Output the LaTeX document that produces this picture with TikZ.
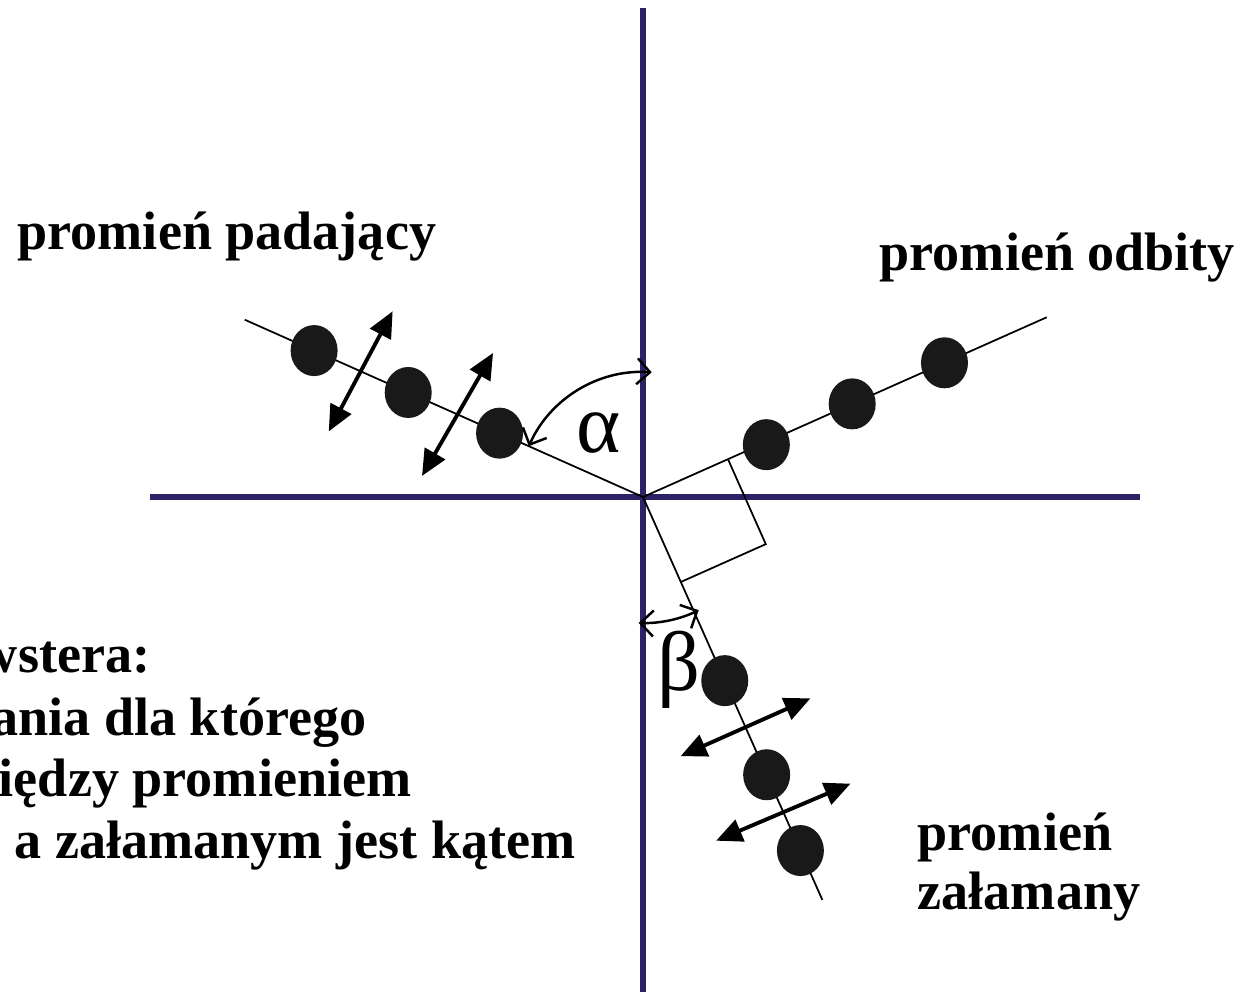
\documentclass[tikz,border=0pt]{standalone}
\usepackage{fontspec}
\setmainfont{Liberation Serif}
\usepackage{xcolor}
\usepackage{tikz}
\usetikzlibrary{shapes.geometric,arrows.meta,calc}
\definecolor{axisnavy}{RGB}{43,35,102}

\begin{document}
\begin{tikzpicture}[font=\bfseries\fontsize{15.4}{17.6}\selectfont, axis/.style={draw=axisnavy, line width=1.6pt}, ray/.style={draw, line width=0.5pt}, dot/.style={ellipse, fill=black!90, inner sep=0pt, minimum width=0.47cm, minimum height=0.51cm}, pol/.style={{Triangle[length=2.6mm,width=2.3mm]}-{Triangle[length=2.6mm,width=2.3mm]}, line width=1.1pt}, ang/.style={{Straight Barb[length=1.3mm,width=2.6mm]}-{Straight Barb[length=1.3mm,width=2.6mm]}, line width=0.7pt}, greek/.style={font=\fontsize{24}{27}\selectfont}, lbl/.style={inner sep=0pt, align=left}]
\useasboundingbox (-6.43,-4.95) rectangle (6.05,4.97);
\clip (-6.43,-4.95) rectangle (6.05,4.97);
% axes
\coordinate (O) at (0,0);
\coordinate (top) at (0,4.89);
\coordinate (bot) at (0,-4.95);
\coordinate (left) at (-4.93,0);
\coordinate (right) at (4.97,0);
\draw[axis] (top) -- (bot);
\draw[axis] (left) -- (right);
% rays
\coordinate (inc) at (156:4.36);
\coordinate (refl) at (24:4.42);
\coordinate (refr) at (-66:4.41);
\draw[ray] (inc) -- (O) -- (refl);
\draw[ray] (O) -- (refr);
% right angle
\coordinate (sq1) at (24:0.93);
\coordinate (sq2) at (-66:0.93);
\draw[ray] (sq1) -- ($(sq1)+(sq2)$) -- (sq2);
% dots
\node[dot] (inc1) at (156:3.60) {};
\node[dot] (inc2) at (156:2.57) {};
\node[dot] (inc3) at (156:1.57) {};
\node[dot] (refl1) at (23:1.34) {};
\node[dot] (refl2) at (24:2.29) {};
\node[dot] (refl3) at (24:3.30) {};
\node[dot] (refr1) at (-66:2.01) {};
\node[dot] (refr2) at (-66:3.04) {};
\node[dot] (refr3) at (-66:3.87) {};
% polarization
\coordinate (pa) at (156:3.09);
\coordinate (pb) at (156:2.03);
\coordinate (pc) at (-66:2.52);
\coordinate (pd) at (-66:3.45);
\draw[pol] ($(pa)+(242:0.68)$) -- ($(pa)+(62:0.68)$);
\draw[pol] ($(pb)+(240:0.71)$) -- ($(pb)+(60:0.71)$);
\draw[pol] ($(pc)+(204:0.71)$) -- ($(pc)+(24:0.71)$);
\draw[pol] ($(pd)+(203:0.73)$) -- ($(pd)+(23:0.73)$);
% angles
\draw[ang] (156:1.25) arc[start angle=156, end angle=86, radius=1.25];
\draw[ang] (-92:1.26) arc[start angle=-92, end angle=-64, radius=1.27];
\node[greek] (alpha) at (-0.44,0.64) {α};
\node[greek] (beta) at (0.36,-1.73) {β};
% labels
\node[lbl, anchor=base west] (tinc) at (-6.26,2.48) {promień padający};
\node[lbl, anchor=base west] (trefl) at (2.36,2.27) {promień odbity};
\node[lbl, anchor=base west] (trefr1) at (2.74,-3.53) {promień};
\node[lbl, anchor=base west] (trefr2) at (2.74,-4.12) {załamany};
\node[lbl, anchor=base east] (tb1) at (-4.92,-1.75) {wstera:};
\node[lbl, anchor=base east] (tb2) at (-2.76,-2.38) {ania dla którego};
\node[lbl, anchor=base east] (tb3) at (-2.31,-2.99) {iędzy promieniem};
\node[lbl, anchor=base east] (tb4) at (-0.67,-3.61) {a załamanym jest kątem};
\end{tikzpicture}
\end{document}
